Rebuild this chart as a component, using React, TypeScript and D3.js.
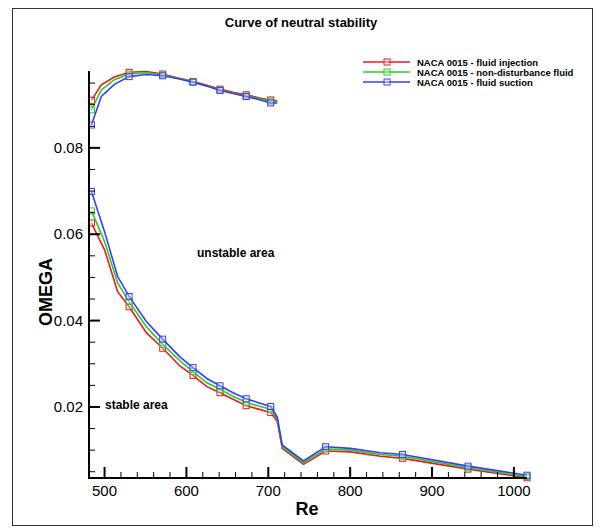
import React from 'react'
import * as d3 from 'd3'

// Re values of the two branches of the neutral curve
const upperRe = [484, 496, 512, 530, 551, 571, 590, 608, 625, 641, 657, 673, 688, 703, 711]
const lowerRe = [484, 500, 516, 530, 551, 571, 592, 608, 625, 641, 657, 673, 688, 703, 711, 717, 743, 770, 800, 837, 864, 944, 1016]

// OMEGA values
const injectionUpper = [0.091, 0.0946, 0.0964, 0.0975, 0.0977, 0.0971, 0.0962, 0.0954, 0.0945, 0.0936, 0.0929, 0.0923, 0.0916, 0.0911, 0.0909]
const neutralUpper = [0.0888, 0.0934, 0.0958, 0.0971, 0.0974, 0.0969, 0.0961, 0.0953, 0.0944, 0.0934, 0.0927, 0.092, 0.0914, 0.0908, 0.0907]
const suctionUpper = [0.0853, 0.0919, 0.0947, 0.0965, 0.097, 0.0967, 0.096, 0.0952, 0.0943, 0.0933, 0.0926, 0.0919, 0.0912, 0.0904, 0.0904]

const injectionLower = [0.0626, 0.0564, 0.0467, 0.0432, 0.0372, 0.0336, 0.0295, 0.0273, 0.0247, 0.0233, 0.0218, 0.0203, 0.0195, 0.0187, 0.0166, 0.0104, 0.0067, 0.0098, 0.0096, 0.0086, 0.0081, 0.0056, 0.0036]
const neutralLower = [0.0654, 0.0583, 0.0487, 0.0444, 0.0386, 0.0345, 0.0307, 0.0282, 0.0256, 0.0241, 0.0225, 0.0211, 0.0202, 0.0195, 0.0171, 0.0108, 0.0071, 0.0103, 0.01, 0.009, 0.0086, 0.0059, 0.0039]
const suctionLower = [0.0699, 0.0606, 0.0502, 0.0456, 0.0398, 0.0357, 0.0316, 0.0291, 0.0266, 0.0249, 0.0233, 0.0219, 0.021, 0.0201, 0.0176, 0.0112, 0.0075, 0.0108, 0.0104, 0.0094, 0.009, 0.0063, 0.0042]

// points that carry a square symbol
const markedRe = [484, 530, 571, 608, 641, 673, 703, 770, 864, 944, 1016]

const seriesNames = ['NACA 0015 - fluid injection', 'NACA 0015 - non-disturbance fluid', 'NACA 0015 - fluid suction']
const seriesColors = ['#f01818', '#22d022', '#3a3aff']

const xTickLabels = [500, 600, 700, 800, 900, 1000]
const yTickLabels = [0.02, 0.04, 0.06, 0.08]

const font = 'Arial, "Liberation Sans", Helvetica, sans-serif'

export default function App() {
  const x = d3.scaleLinear().domain([481, 1016]).range([89, 527])
  const y = d3.scaleLinear().domain([0.00355, 0.0978]).range([478, 71])

  const series = [
    { upper: injectionUpper, lower: injectionLower },
    { upper: neutralUpper, lower: neutralLower },
    { upper: suctionUpper, lower: suctionLower },
  ]

  const line = d3
    .line<[number, number]>()
    .x((d) => x(d[0]))
    .y((d) => y(d[1]))

  const xMinor = d3.range(500, 1016, 20).filter((v) => v % 100 !== 0)
  const yMinor = d3.range(0.005, 0.0978, 0.005).filter((v) => Math.abs(v / 0.02 - Math.round(v / 0.02)) > 1e-6)

  return (
    <svg width={603} height={532} style={{ position: 'absolute', left: 0, top: 0, display: 'block' }}>
      <rect x={0} y={0} width={603} height={532} fill="#fff" />
      <rect x={12.5} y={8.5} width={580} height={517} fill="none" stroke="#333" strokeWidth={1} />

      <text x={301} y={27} textAnchor="middle" fontFamily={font} fontWeight="bold" fontSize={13}>
        Curve of neutral stability
      </text>

      {/* curves */}
      {series.map((s, i) => (
        <g key={i} stroke={seriesColors[i]} fill="none">
          <path d={line(upperRe.map((r, j) => [r, s.upper[j]]))!} strokeWidth={1.6} />
          <path d={line(lowerRe.map((r, j) => [r, s.lower[j]]))!} strokeWidth={1.6} />
          {[
            ...upperRe.map((r, j) => [r, s.upper[j]]),
            ...lowerRe.map((r, j) => [r, s.lower[j]]),
          ]
            .filter((d) => markedRe.includes(d[0]))
            .map((d, j) => (
              <rect key={j} x={x(d[0]) - 3} y={y(d[1]) - 3} width={6} height={6} strokeWidth={1} fill="rgba(255,255,255,0.3)" />
            ))}
        </g>
      ))}

      {/* axes */}
      <g stroke="#000">
        <line x1={89} y1={y.range()[1]} x2={89} y2={479} strokeWidth={2} />
        <line x1={88} y1={478} x2={x.range()[1]} y2={478} strokeWidth={2} />
        {xTickLabels.map((v) => (
          <line key={v} x1={x(v)} x2={x(v)} y1={478} y2={467} strokeWidth={2} />
        ))}
        {xMinor.map((v) => (
          <line key={v} x1={x(v)} x2={x(v)} y1={478} y2={472} strokeWidth={1} />
        ))}
        {yTickLabels.map((v) => (
          <line key={v} x1={89} x2={100} y1={y(v)} y2={y(v)} strokeWidth={2} />
        ))}
        {yMinor.map((v) => (
          <line key={v} x1={89} x2={95} y1={y(v)} y2={y(v)} strokeWidth={1} />
        ))}
      </g>
      {xTickLabels.map((v) => (
        <text key={v} x={x(v)} y={496} textAnchor="middle" fontFamily={font} fontSize={15}>
          {v}
        </text>
      ))}
      {yTickLabels.map((v) => (
        <text key={v} x={83} y={y(v) + 5} textAnchor="end" fontFamily={font} fontSize={15}>
          {v.toFixed(2)}
        </text>
      ))}

      <text x={307} y={515} textAnchor="middle" fontFamily={font} fontWeight="bold" fontSize={18}>
        Re
      </text>
      <text transform="translate(52,292) rotate(-90)" textAnchor="middle" fontFamily={font} fontWeight="bold" fontSize={18}>
        OMEGA
      </text>

      <text x={197} y={257} fontFamily={font} fontWeight="bold" fontSize={12}>
        unstable area
      </text>
      <text x={105} y={409} fontFamily={font} fontWeight="bold" fontSize={12}>
        stable area
      </text>

      {/* legend */}
      {seriesNames.map((name, i) => (
        <g key={name}>
          <line x1={363} x2={410} y1={62 + i * 10} y2={62 + i * 10} stroke={seriesColors[i]} strokeWidth={1.6} />
          <rect x={384} y={59 + i * 10} width={6} height={6} fill="rgba(255,255,255,0.3)" stroke={seriesColors[i]} strokeWidth={1} />
          <text x={417} y={65.5 + i * 10} fontFamily={font} fontWeight="bold" fontSize={9.5}>
            {name}
          </text>
        </g>
      ))}
    </svg>
  )
}
